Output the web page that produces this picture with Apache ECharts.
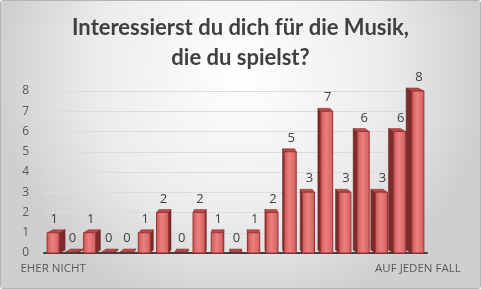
<!DOCTYPE html>
<html>
<head>
<meta charset="utf-8">
<script src="https://cdn.jsdelivr.net/npm/echarts@6/dist/echarts.min.js"></script>
<style>
  html, body { margin: 0; padding: 0; }
  #frame { width: 481px; height: 289px; box-sizing: border-box; border: 1px solid #b4b4b4; border-radius: 3px; overflow: hidden; }
  #chart { width: 479px; height: 287px; }
</style>
</head>
<body>
<div id="frame"><div id="chart"></div></div>
<script>
// Skala von "eher nicht" bis "auf jeden Fall"
var categories = ['EHER NICHT', '', '', '', '', '', '', '', '', '', '', '', '', '', '', '', '', '', '', '', 'AUF JEDEN FALL'];
var counts = [1, 0, 1, 0, 0, 1, 2, 0, 2, 1, 0, 1, 2, 5, 3, 7, 3, 6, 3, 6, 8];
var yTicks = [0, 1, 2, 3, 4, 5, 6, 7, 8];

var myChart = echarts.init(document.getElementById('chart'));

// 3D-Säule: Vorderseite, Seite und Deckel, Tiefe zur Mitte hin verschoben
function renderBar(params, api) {
    var idx = api.value(0);
    var v = api.value(1);
    var top = api.coord([idx, v]);
    var base = api.coord([idx, 0]);
    var w = api.size([1, 0])[0] * 0.66;
    var cx = top[0];
    var dx = -(cx - 238) * 0.032;
    var dy = 3;
    var x0 = cx - w / 2, x1 = cx + w / 2;
    var yt = v > 0 ? top[1] : base[1] - 1;
    var yb = base[1];
    var children = [];
    // Seitenfläche
    var sx = dx > 0 ? x1 : x0;
    children.push({
        type: 'polygon',
        shape: { points: [[sx, yt], [sx + dx, yt - dy], [sx + dx, yb - dy], [sx, yb]] },
        style: { fill: '#7d2a2a', stroke: '#6a2020', lineWidth: 0.5 }
    });
    // Deckel
    children.push({
        type: 'polygon',
        shape: { points: [[x0, yt], [x0 + dx, yt - dy], [x1 + dx, yt - dy], [x1, yt]] },
        style: { fill: '#b94848', stroke: '#8e2f2f', lineWidth: 0.5 }
    });
    // Vorderseite
    if (v > 0) {
        children.push({
            type: 'rect',
            shape: { x: x0, y: yt, width: w, height: yb - yt },
            style: {
                fill: new echarts.graphic.LinearGradient(0, 0, 1, 0, [
                    { offset: 0, color: '#c95555' },
                    { offset: 0.45, color: '#ee8080' },
                    { offset: 1, color: '#d05c5c' }
                ]),
                stroke: '#9b3333',
                lineWidth: 1
            }
        });
    }
    // Wertbeschriftung
    children.push({
        type: 'text',
        style: {
            text: String(v),
            x: cx + 1,
            y: yt - 7,
            align: 'center',
            verticalAlign: 'bottom',
            fill: '#404040',
            font: '13px "Open Sans"'
        }
    });
    return { type: 'group', children: children };
}

var barData = counts.map(function (c, i) { return [i, c]; });

var option = {
    backgroundColor: {
        type: 'radial', x: 0.5, y: 0.25, r: 0.85,
        colorStops: [
            { offset: 0, color: '#ffffff' },
            { offset: 0.6, color: '#ececec' },
            { offset: 1, color: '#cfcfcf' }
        ]
    },
    animation: false,
    title: {
        text: 'Interessierst du dich für die Musik,\ndie du spielst?',
        left: 'center',
        top: 7,
        textStyle: {
            fontFamily: 'Lato',
            fontWeight: 'bold',
            fontSize: 22,
            lineHeight: 30,
            color: '#404040'
        }
    },
    grid: { left: 43, right: 53, top: 90, bottom: 35 },
    xAxis: {
        type: 'category',
        data: categories,
        axisLine: { lineStyle: { color: '#404040', width: 2 } },
        axisTick: { show: false },
        axisLabel: {
            interval: 0,
            margin: 10,
            color: '#595959',
            fontSize: 11.5,
            fontFamily: 'Open Sans'
        }
    },
    yAxis: {
        type: 'value',
        min: yTicks[0],
        max: yTicks[yTicks.length - 1],
        interval: 1,
        axisLine: { show: false },
        axisTick: { show: false },
        axisLabel: { margin: 15, color: '#595959', fontSize: 12, fontFamily: 'Open Sans' },
        splitLine: { lineStyle: { color: '#dcdcdc', width: 1 } }
    },
    series: [
        {
            type: 'custom',
            renderItem: renderBar,
            data: barData,
            encode: { x: 0, y: 1 },
            z: 3
        }
    ]
};

myChart.setOption(option);
window.addEventListener('resize', function () {
    myChart.resize();
});
</script>
</body>
</html>
